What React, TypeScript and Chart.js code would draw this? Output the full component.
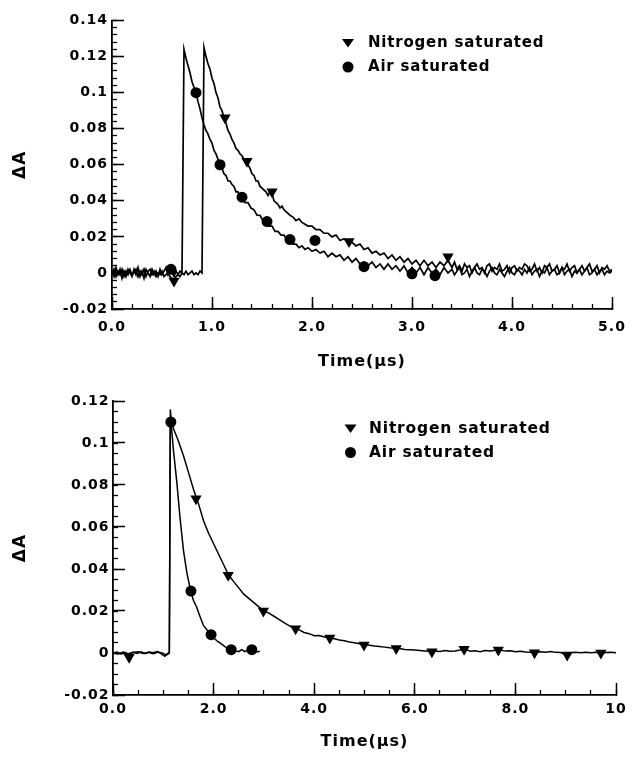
import React, { useEffect, useRef } from "react";
import { Chart, registerables } from "chart.js";

Chart.register(...registerables);

type Pt = [number, number];

// ---------- tick labels ----------
const topXTickValues = [0, 1, 2, 3, 4, 5];
const topXTickLabels = ["0.0", "1.0", "2.0", "3.0", "4.0", "5.0"];
const topYTickValues = [-0.02, 0, 0.02, 0.04, 0.06, 0.08, 0.1, 0.12, 0.14];
const topYTickLabels = ["-0.02", "0", "0.02", "0.04", "0.06", "0.08", "0.1", "0.12", "0.14"];
const bottomXTickValues = [0, 2, 4, 6, 8, 10];
const bottomXTickLabels = ["0.0", "2.0", "4.0", "6.0", "8.0", "10"];
const bottomYTickValues = [-0.02, 0, 0.02, 0.04, 0.06, 0.08, 0.1, 0.12];
const bottomYTickLabels = ["-0.02", "0", "0.02", "0.04", "0.06", "0.08", "0.1", "0.12"];

const seriesNames = ["Nitrogen saturated", "Air saturated"];
const xTitle = "Time(\u03bcs)";
const yTitle = "\u0394A";

// ---------- top panel traces (time in µs, ΔA) ----------
const topN2Trace: Pt[] = [
  [0, -0.001], [0.02, 0.002], [0.04, -0.002], [0.06, 0.001], [0.08, -0.001], [0.1, 0.002], [0.12, -0.002], [0.14, 0.001],
  [0.16, -0.001], [0.18, 0.002], [0.2, -0.001], [0.22, 0], [0.24, 0.002], [0.26, -0.002], [0.28, 0.001], [0.3, -0.001],
  [0.32, 0.002], [0.34, -0.002], [0.36, 0.001], [0.38, 0.002], [0.4, -0.001], [0.42, 0.001], [0.44, -0.002], [0.46, 0],
  [0.48, -0.001], [0.5, 0.001], [0.52, -0.002], [0.54, -0.001], [0.56, 0], [0.58, -0.002], [0.6, -0.003], [0.62, -0.004],
  [0.64, -0.002], [0.66, -0.001], [0.68, -0.002], [0.7, 0], [0.72, -0.001], [0.74, 0.001], [0.76, -0.001], [0.78, 0],
  [0.8, 0.001], [0.82, -0.001], [0.84, 0], [0.86, -0.001], [0.88, 0.001], [0.9, 0],
  [0.92, 0.125], [0.94, 0.12], [0.96, 0.116], [0.98, 0.113], [1.0, 0.108], [1.02, 0.105], [1.04, 0.1], [1.06, 0.097],
  [1.08, 0.092], [1.1, 0.09], [1.12, 0.086], [1.14, 0.083], [1.16, 0.079], [1.18, 0.077], [1.2, 0.074], [1.22, 0.072],
  [1.24, 0.069], [1.26, 0.068], [1.28, 0.066], [1.3, 0.065], [1.32, 0.063], [1.34, 0.062], [1.36, 0.06], [1.38, 0.058],
  [1.4, 0.055], [1.42, 0.054], [1.44, 0.051], [1.46, 0.051], [1.48, 0.048], [1.5, 0.047], [1.52, 0.046], [1.54, 0.045],
  [1.56, 0.043], [1.58, 0.045], [1.6, 0.044], [1.62, 0.04], [1.64, 0.039], [1.66, 0.038], [1.68, 0.036], [1.7, 0.037],
  [1.72, 0.035], [1.74, 0.034], [1.76, 0.033], [1.78, 0.032], [1.81, 0.031], [1.84, 0.029], [1.87, 0.03], [1.9, 0.028],
  [1.93, 0.027], [1.96, 0.026], [2.0, 0.026], [2.04, 0.024], [2.08, 0.024], [2.12, 0.022], [2.16, 0.022], [2.2, 0.02],
  [2.24, 0.021], [2.28, 0.018], [2.32, 0.019], [2.36, 0.017], [2.4, 0.017], [2.44, 0.015], [2.48, 0.016], [2.52, 0.013],
  [2.56, 0.014], [2.6, 0.011], [2.64, 0.012], [2.68, 0.01], [2.72, 0.011], [2.76, 0.008], [2.8, 0.01], [2.84, 0.007],
  [2.88, 0.009], [2.92, 0.006], [2.96, 0.008], [3.0, 0.005], [3.04, 0.007], [3.08, 0.004], [3.12, 0.007], [3.16, 0.004],
  [3.2, 0.006], [3.24, 0.003], [3.28, 0.006], [3.32, 0.004], [3.36, 0.007],
  [3.4, 0.003], [3.425, 0.006], [3.45, 0.002], [3.475, 0.004], [3.5, 0.001], [3.525, 0.005], [3.55, 0.003], [3.575, 0.004],
  [3.6, 0], [3.625, 0.003], [3.65, 0.005], [3.675, 0.002], [3.7, 0.003], [3.725, 0], [3.75, 0.004], [3.775, 0.005],
  [3.8, 0.001], [3.825, 0.003], [3.85, 0.002], [3.875, 0.005], [3.9, 0.001], [3.925, 0.002], [3.95, 0.004], [3.975, 0],
  [4.0, 0.003], [4.025, 0.004], [4.05, 0.001], [4.075, 0.003], [4.1, 0.002], [4.125, 0.005], [4.15, 0.004], [4.175, 0.001],
  [4.2, 0.002], [4.225, 0.005], [4.25, 0.001], [4.275, 0.003], [4.3, 0], [4.325, 0.004], [4.35, 0.003], [4.375, 0.005],
  [4.4, 0.001], [4.425, 0.002], [4.45, 0.004], [4.475, 0], [4.5, 0.003], [4.525, 0.002], [4.55, 0.005], [4.575, 0.001],
  [4.6, 0.003], [4.625, 0.004], [4.65, 0], [4.675, 0.002], [4.7, 0.004], [4.725, 0.001], [4.75, 0.003], [4.775, 0.005],
  [4.8, 0.001], [4.825, 0.002], [4.85, 0.004], [4.875, 0], [4.9, 0.003], [4.925, 0.002], [4.95, 0.004], [4.975, 0.001],
  [5.0, 0.002],
];

const topAirTrace: Pt[] = [
  [0, 0.001], [0.02, -0.002], [0.04, 0.003], [0.06, -0.001], [0.08, 0.002], [0.1, -0.003], [0.12, 0.001], [0.14, -0.002],
  [0.16, 0.002], [0.18, 0], [0.2, -0.002], [0.22, 0.002], [0.24, -0.001], [0.26, 0.003], [0.28, -0.002], [0.3, 0.001],
  [0.32, -0.003], [0.34, 0.002], [0.36, 0], [0.38, -0.002], [0.4, 0.002], [0.42, -0.001], [0.44, 0.001], [0.46, -0.002],
  [0.48, 0.002], [0.5, -0.001], [0.52, 0.001], [0.54, 0.003], [0.56, -0.001], [0.58, 0.002], [0.6, 0], [0.62, -0.002],
  [0.64, 0.001], [0.66, -0.001], [0.68, 0.001], [0.7, 0],
  [0.72, 0.124], [0.74, 0.119], [0.76, 0.115], [0.78, 0.111], [0.8, 0.106], [0.82, 0.103], [0.84, 0.1], [0.86, 0.095],
  [0.88, 0.091], [0.9, 0.086], [0.92, 0.082], [0.94, 0.079], [0.96, 0.077], [0.98, 0.074], [1.0, 0.072], [1.02, 0.068],
  [1.04, 0.066], [1.06, 0.063], [1.08, 0.06], [1.1, 0.058], [1.12, 0.055], [1.14, 0.054], [1.16, 0.051], [1.18, 0.051],
  [1.2, 0.049], [1.22, 0.048], [1.24, 0.045], [1.26, 0.045], [1.28, 0.042], [1.3, 0.042], [1.33, 0.039], [1.36, 0.039],
  [1.39, 0.036], [1.42, 0.035], [1.45, 0.032], [1.48, 0.032], [1.51, 0.029], [1.54, 0.029], [1.57, 0.026], [1.6, 0.026],
  [1.63, 0.023], [1.66, 0.023], [1.69, 0.021], [1.72, 0.021], [1.75, 0.018], [1.78, 0.019], [1.81, 0.016], [1.84, 0.016],
  [1.87, 0.014], [1.9, 0.015], [1.93, 0.013], [1.96, 0.014], [2.0, 0.012], [2.04, 0.013], [2.08, 0.011], [2.12, 0.012],
  [2.16, 0.009], [2.2, 0.011], [2.24, 0.009], [2.28, 0.01], [2.32, 0.007], [2.36, 0.009], [2.4, 0.006], [2.44, 0.008],
  [2.48, 0.005], [2.52, 0.006], [2.56, 0.004], [2.6, 0.006], [2.64, 0.003], [2.68, 0.005], [2.72, 0.002], [2.76, 0.005],
  [2.8, 0.002], [2.84, 0.004], [2.88, 0.001], [2.92, 0.004], [2.96, 0], [3.0, 0.003], [3.04, 0], [3.08, 0.003],
  [3.12, -0.001], [3.16, 0.003], [3.2, 0], [3.24, 0.002], [3.28, -0.001], [3.32, 0.003], [3.36, 0],
  [3.4, 0.002], [3.425, -0.001], [3.45, 0.001], [3.475, 0.003], [3.5, -0.001], [3.525, 0], [3.55, 0.002], [3.575, -0.002],
  [3.6, 0.001], [3.625, 0.003], [3.65, 0], [3.675, -0.001], [3.7, 0.002], [3.725, 0.001], [3.75, -0.002], [3.775, 0.001],
  [3.8, 0.003], [3.825, 0], [3.85, -0.001], [3.875, 0.002], [3.9, 0], [3.925, -0.002], [3.95, 0.001], [3.975, 0.003],
  [4.0, 0], [4.025, -0.001], [4.05, 0.002], [4.075, 0.001], [4.1, -0.001], [4.125, 0.002], [4.15, 0], [4.175, 0.003],
  [4.2, -0.001], [4.225, 0.001], [4.25, 0.002], [4.275, -0.002], [4.3, 0.001], [4.325, 0], [4.35, 0.003], [4.375, -0.001],
  [4.4, 0.001], [4.425, 0.002], [4.45, -0.001], [4.475, 0], [4.5, 0.003], [4.525, -0.001], [4.55, 0.001], [4.575, 0.002],
  [4.6, -0.002], [4.625, 0.001], [4.65, 0], [4.675, 0.002], [4.7, -0.001], [4.725, 0.001], [4.75, 0.003], [4.775, -0.001],
  [4.8, 0], [4.825, 0.002], [4.85, -0.001], [4.875, 0.001], [4.9, 0.002], [4.925, -0.001], [4.95, 0.001], [4.975, 0],
  [5.0, 0.001],
];

const topN2Marks: Pt[] = [[0.62, -0.0045], [1.13, 0.086], [1.35, 0.062], [1.6, 0.045], [2.37, 0.0175], [3.36, 0.009]];
const topAirMarks: Pt[] = [
  [0.59, 0.002], [0.84, 0.1], [1.08, 0.06], [1.3, 0.042], [1.55, 0.0285], [1.78, 0.0185], [2.03, 0.018],
  [2.52, 0.0035], [3.0, -0.0005], [3.23, -0.0015],
];

// ---------- bottom panel traces ----------
const bottomN2Trace: Pt[] = [
  [0, 0], [0.08, 0.0005], [0.16, -0.0004], [0.24, 0.0003], [0.32, -0.0012], [0.4, 0.0004], [0.48, -0.0002], [0.56, 0.0006],
  [0.64, -0.0003], [0.72, 0.0005], [0.8, 0.0001], [0.88, 0.0007], [0.96, -0.0004], [1.03, -0.0016], [1.08, -0.0003], [1.12, 0.0002],
  [1.14, 0.116], [1.16, 0.11], [1.2, 0.107], [1.3, 0.101], [1.4, 0.094], [1.5, 0.086], [1.6, 0.078], [1.7, 0.071],
  [1.8, 0.063], [1.9, 0.057], [2.0, 0.052], [2.1, 0.047], [2.2, 0.042], [2.3, 0.037], [2.4, 0.034], [2.5, 0.031],
  [2.6, 0.028], [2.7, 0.026], [2.8, 0.024], [2.9, 0.022], [3.0, 0.02], [3.1, 0.019], [3.2, 0.0175], [3.3, 0.016],
  [3.4, 0.0145], [3.5, 0.013], [3.6, 0.0118], [3.7, 0.011], [3.8, 0.0098], [3.9, 0.0092], [4.0, 0.0082], [4.1, 0.0083],
  [4.2, 0.0076], [4.3, 0.0072], [4.4, 0.0068], [4.5, 0.0062], [4.6, 0.0058], [4.7, 0.0052], [4.8, 0.0049], [4.9, 0.0044],
  [5.0, 0.0039], [5.1, 0.0037], [5.2, 0.0033], [5.3, 0.0031], [5.4, 0.0028], [5.5, 0.0025], [5.6, 0.0023], [5.7, 0.0021],
  [5.8, 0.0017], [5.9, 0.0016], [6.0, 0.0014], [6.1, 0.0012], [6.2, 0.001], [6.3, 0.0008], [6.4, 0.0009], [6.5, 0.0007],
  [6.6, 0.0012], [6.7, 0.0008], [6.8, 0.001], [6.9, 0.0014], [7.0, 0.002], [7.1, 0.0008], [7.2, 0.0011], [7.3, 0.0006],
  [7.4, 0.0012], [7.5, 0.0009], [7.6, 0.0013], [7.7, 0.0014], [7.8, 0.0009], [7.9, 0.0011], [8.0, 0.0006], [8.1, 0.0008],
  [8.2, 0.0005], [8.3, 0.0003], [8.4, 0.0002], [8.5, 0.0006], [8.6, 0.0004], [8.7, 0.0007], [8.8, 0.0003], [8.9, 0.0002],
  [9.0, -0.0008], [9.1, 0.0001], [9.2, 0.0003], [9.3, 0.0001], [9.4, 0.0004], [9.5, 0.0001], [9.6, 0.0003], [9.7, -0.0002],
  [9.8, 0.0002], [9.9, 0.0004], [10.0, 0.0001],
];

const bottomAirTrace: Pt[] = [
  [0, 0.0003], [0.1, -0.0004], [0.2, 0.0005], [0.3, -0.0003], [0.4, 0.0002], [0.5, 0.0006], [0.6, -0.0002], [0.7, 0.0004],
  [0.8, -0.0003], [0.9, 0.0005], [1.0, -0.0002], [1.06, -0.001], [1.12, 0],
  [1.14, 0.112], [1.16, 0.108], [1.2, 0.097], [1.27, 0.081], [1.33, 0.065], [1.4, 0.049], [1.47, 0.038], [1.55, 0.029],
  [1.6, 0.025], [1.66, 0.022], [1.72, 0.018], [1.8, 0.013], [1.87, 0.011], [1.95, 0.0086], [2.02, 0.0068], [2.08, 0.0055],
  [2.14, 0.0046], [2.2, 0.0035], [2.26, 0.0025], [2.32, 0.0018], [2.38, 0.0014], [2.44, 0.001], [2.5, 0.0006], [2.56, 0.0016],
  [2.62, 0.0006], [2.68, 0.0013], [2.74, 0.0008], [2.8, 0.0016], [2.86, 0.0005], [2.92, 0.0008],
];

const bottomN2Marks: Pt[] = [
  [0.32, -0.002], [1.65, 0.0735], [2.29, 0.037], [2.99, 0.02], [3.63, 0.0115], [4.31, 0.0072], [4.99, 0.0038],
  [5.63, 0.0022], [6.34, 0.0006], [6.98, 0.0018], [7.66, 0.0014], [8.38, 0.0001], [9.03, -0.001], [9.7, 0],
];
const bottomAirMarks: Pt[] = [[1.15, 0.11], [1.55, 0.0295], [1.95, 0.0087], [2.35, 0.0016], [2.76, 0.0016]];

// ---------- rendering ----------
const INK = "#000";
const FONT = "'DejaVu Sans', 'Noto Sans', sans-serif";

interface PanelSpec {
  n2Trace: Pt[]; airTrace: Pt[]; n2Marks: Pt[]; airMarks: Pt[];
  xMin: number; xMax: number; xTicks: number[]; xLabels: string[]; xMinorStep: number;
  yMin: number; yMax: number; yTicks: number[]; yLabels: string[]; yMinorStep: number;
  padTop: number; padRight: number; yAxisWidth: number; xAxisHeight: number;
  xLabelPad: number; yLabelPad: number; lineWidth: number;
  legendMarkerX: number; legendTextX: number; legendRow1: number; legendRow2: number; legendFont: number;
}

const toXY = (pts: Pt[]) => pts.map(([x, y]) => ({ x, y }));

const spacingPlugin = {
  id: "letterSpacing",
  beforeUpdate(chart: any) { (chart.ctx as any).letterSpacing = "1px"; },
  beforeLayout(chart: any) { (chart.ctx as any).letterSpacing = "1px"; },
  beforeDraw(chart: any) { (chart.ctx as any).letterSpacing = "1px"; },
};

const clearPadding = (sc: any) => {
  sc.paddingLeft = 0;
  sc.paddingRight = 0;
  sc.paddingTop = 0;
  sc.paddingBottom = 0;
};

function buildConfig(s: PanelSpec): any {
  const tickFont = { family: FONT, size: 14, weight: "bold" as const };
  const legendPlugin = {
    id: "inlineLegend",
    afterDraw(chart: any) {
      const ctx = chart.ctx as CanvasRenderingContext2D;
      ctx.save();
      ctx.fillStyle = INK;
      const mx = s.legendMarkerX;
      const r1 = s.legendRow1;
      const r2 = s.legendRow2;
      ctx.beginPath();
      ctx.moveTo(mx - 6, r1 - 4);
      ctx.lineTo(mx + 6, r1 - 4);
      ctx.lineTo(mx, r1 + 4.5);
      ctx.closePath();
      ctx.fill();
      ctx.beginPath();
      ctx.arc(mx, r2, 5.5, 0, Math.PI * 2);
      ctx.fill();
      ctx.font = `bold ${s.legendFont}px ${FONT}`;
      (ctx as any).letterSpacing = "0.8px";
      ctx.textBaseline = "middle";
      ctx.textAlign = "left";
      ctx.fillText(seriesNames[0], s.legendTextX, r1);
      ctx.fillText(seriesNames[1], s.legendTextX, r2);
      ctx.restore();
    },
  };

  return {
    type: "line",
    data: {
      datasets: [
        {
          label: seriesNames[0], data: toXY(s.n2Trace), borderColor: INK, borderWidth: s.lineWidth,
          pointRadius: 0, tension: 0, fill: false, xAxisID: "x", yAxisID: "y",
        },
        {
          label: seriesNames[1], data: toXY(s.airTrace), borderColor: INK, borderWidth: s.lineWidth,
          pointRadius: 0, tension: 0, fill: false, xAxisID: "x", yAxisID: "y",
        },
        {
          label: seriesNames[0] + " markers", data: toXY(s.n2Marks), showLine: false, pointStyle: "triangle",
          rotation: 180, pointRadius: 6.5, backgroundColor: INK, borderColor: INK, borderWidth: 0,
          xAxisID: "x", yAxisID: "y",
        },
        {
          label: seriesNames[1] + " markers", data: toXY(s.airMarks), showLine: false, pointStyle: "circle",
          pointRadius: 5.5, backgroundColor: INK, borderColor: INK, borderWidth: 0, xAxisID: "x", yAxisID: "y",
        },
      ],
    },
    options: {
      responsive: false,
      animation: false,
      devicePixelRatio: 1,
      events: [],
      layout: { padding: { left: 0, top: s.padTop, right: s.padRight, bottom: 0 } },
      plugins: { legend: { display: false }, tooltip: { enabled: false } },
      scales: {
        x: {
          type: "linear", position: "bottom", min: s.xMin, max: s.xMax, weight: 0,
          afterBuildTicks: (sc: any) => { sc.ticks = s.xTicks.map((v) => ({ value: v })); },
          afterFit: (sc: any) => { sc.height = s.xAxisHeight; clearPadding(sc); },
          ticks: {
            callback: (_v: any, i: number) => s.xLabels[i], color: INK, font: tickFont,
            padding: s.xLabelPad, maxRotation: 0, autoSkip: false,
          },
          grid: { drawOnChartArea: false, drawTicks: true, tickLength: -12, tickColor: INK, tickWidth: 1.5 },
          border: { display: true, color: INK, width: 1.8 },
          title: {
            display: true, text: xTitle, color: INK,
            font: { family: FONT, size: 16, weight: "bold" }, padding: { top: 0, bottom: 8.4 },
          },
        },
        xMinor: {
          type: "linear", position: "bottom", min: s.xMin, max: s.xMax, weight: -1,
          afterFit: (sc: any) => { sc.height = 0; clearPadding(sc); },
          ticks: { display: false, stepSize: s.xMinorStep, autoSkip: false },
          grid: { drawOnChartArea: false, drawTicks: true, tickLength: -5, tickColor: INK, tickWidth: 1.3 },
          border: { display: false },
        },
        y: {
          type: "linear", position: "left", min: s.yMin, max: s.yMax, weight: 0,
          afterBuildTicks: (sc: any) => { sc.ticks = s.yTicks.map((v) => ({ value: v })); },
          afterFit: (sc: any) => { sc.width = s.yAxisWidth; clearPadding(sc); },
          ticks: {
            callback: (_v: any, i: number) => s.yLabels[i], color: INK, font: tickFont,
            padding: s.yLabelPad, autoSkip: false,
          },
          grid: { drawOnChartArea: false, drawTicks: true, tickLength: -12, tickColor: INK, tickWidth: 1.5 },
          border: { display: true, color: INK, width: 1.8 },
          title: {
            display: true, text: yTitle, color: INK,
            font: { family: FONT, size: 17, weight: "bold" }, padding: { top: 10.3, bottom: 0 },
          },
        },
        yMinor: {
          type: "linear", position: "left", min: s.yMin, max: s.yMax, weight: -1,
          afterFit: (sc: any) => { sc.width = 0; clearPadding(sc); },
          ticks: { display: false, stepSize: s.yMinorStep, autoSkip: false },
          grid: { drawOnChartArea: false, drawTicks: true, tickLength: -5, tickColor: INK, tickWidth: 1.3 },
          border: { display: false },
        },
      },
    },
    plugins: [spacingPlugin, legendPlugin],
  };
}

const topSpec: PanelSpec = {
  n2Trace: topN2Trace, airTrace: topAirTrace, n2Marks: topN2Marks, airMarks: topAirMarks,
  xMin: 0, xMax: 5, xTicks: topXTickValues, xLabels: topXTickLabels, xMinorStep: 0.2,
  yMin: -0.02, yMax: 0.14, yTicks: topYTickValues, yLabels: topYTickLabels, yMinorStep: 0.004,
  padTop: 20.5, padRight: 20, yAxisWidth: 112, xAxisHeight: 71, xLabelPad: 22, yLabelPad: 16, lineWidth: 1.7,
  legendMarkerX: 348, legendTextX: 368, legendRow1: 43, legendRow2: 67, legendFont: 15,
};

const bottomSpec: PanelSpec = {
  n2Trace: bottomN2Trace, airTrace: bottomAirTrace, n2Marks: bottomN2Marks, airMarks: bottomAirMarks,
  xMin: 0, xMax: 10, xTicks: bottomXTickValues, xLabels: bottomXTickLabels, xMinorStep: 0.5,
  yMin: -0.02, yMax: 0.12, yTicks: bottomYTickValues, yLabels: bottomYTickLabels, yMinorStep: 0.005,
  padTop: 21, padRight: 16, yAxisWidth: 113, xAxisHeight: 65, xLabelPad: 17.5, yLabelPad: 15.5, lineWidth: 1.5,
  legendMarkerX: 350.5, legendTextX: 369, legendRow1: 48.5, legendRow2: 72.5, legendFont: 15.5,
};

function Panel({ spec, top }: { spec: PanelSpec; top: number }) {
  const ref = useRef<HTMLCanvasElement>(null);
  useEffect(() => {
    if (!ref.current) return;
    const chart = new Chart(ref.current, buildConfig(spec));
    return () => chart.destroy();
  }, [spec]);
  return (
    <canvas
      ref={ref}
      width={632}
      height={380}
      style={{ position: "absolute", left: 0, top, width: 632, height: 380, display: "block" }}
    />
  );
}

export default function App() {
  return (
    <div style={{ position: "absolute", left: 0, top: 0, width: 632, height: 760, background: "#fff" }}>
      <Panel spec={topSpec} top={0} />
      <Panel spec={bottomSpec} top={380} />
    </div>
  );
}
